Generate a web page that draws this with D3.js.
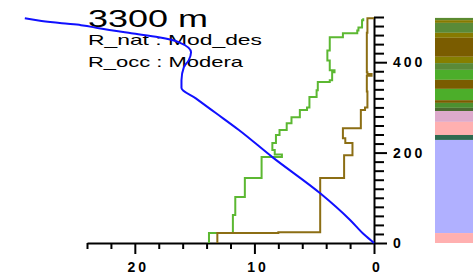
<!DOCTYPE html>
<html>
<head>
<meta charset="utf-8">
<script src="https://cdn.jsdelivr.net/npm/d3@7"></script>
<style>
  body { margin: 0; background: #fff; }
  svg { display: block; }
</style>
</head>
<body>
<div id="chart"></div>
<script>
// profile heights (0-500) and values
var tempH = [0, 18, 51, 110, 190, 250, 287, 320, 343, 360, 389, 404, 422, 444, 455, 464, 475, 482, 486, 491, 497];
var tempV = [0, 0.8, 2.0, 4.5, 8.5, 11.3, 13.2, 14.9, 16.1, 16.1, 15.9, 15.5, 15.3, 16.3, 18.0, 20.3, 23.0, 24.5, 26.1, 27.8, 29.2];

var greenH = [0, 22, 62, 102, 144, 190, 196, 206, 221, 239, 250, 265, 278, 294, 300, 323, 338, 356, 360, 378, 382, 404, 426, 455, 464, 470, 477, 493, 497];
var greenV = [13.8, 11.8, 11.6, 10.8, 9.4, 7.7, 8.3, 8.5, 8.2, 7.9, 7.3, 6.9, 6.2, 5.6, 5.4, 4.8, 4.7, 3.7, 3.5, 3.3, 3.7, 3.9, 3.7, 2.6, 1.4, 1.3, 1.0, 0.9, 0.9];

var brownH = [0, 22, 24, 144, 194, 221, 232, 254, 294, 300, 335, 370, 374, 378, 420, 465, 497, 497];
var brownV = [13.1, 8.0, 4.5, 2.5, 1.8, 2.4, 2.6, 1.1, 0.75, 0.55, 0.6, 0.2, 0.55, 0.6, 0.6, 0.55, 0.55, 0];

// colour column, edges from top to bottom
var stripeEdges = [498, 493, 487, 465, 454, 412, 398, 383, 361, 341, 316, 310, 299, 292, 268, 239, 228, 22, 0];
var stripeColors = ["#5a8a30", "#867a00", "#5a8a38", "#867a00", "#7a5c00", "#857f00", "#5a8a38", "#4cae2a",
                    "#7a5c00", "#4cae2a", "#7a5c00", "#4c9030", "#4a6a30", "#ddaacc", "#ffb0b0", "#2f6a50",
                    "#b0b0ff", "#ffb0b0"];

var xTicks = d3.range(0, 25, 2);
var yTicks = d3.range(0, 501, 20);
var xLabels = [0, 10, 20];
var yLabels = [0, 200, 400];

var title = "3300 m";
var line1 = "R_nat : Mod_des";
var line2 = "R_occ : Modera";

var w = 473, h = 276;

var x = d3.scaleLinear().domain([24, 0]).range([87, 374]);
var y = d3.scaleLinear().domain([0, 500]).range([243, 17]);

var svg = d3.select("#chart").append("svg")
    .attr("width", w)
    .attr("height", h);

// colour column
svg.selectAll(".stripe")
    .data(stripeColors)
    .enter()
    .append("rect")
    .attr("class", "stripe")
    .attr("x", 435)
    .attr("width", 45)
    .attr("y", function(d, i) { return y(stripeEdges[i]); })
    .attr("height", function(d, i) { return y(stripeEdges[i + 1]) - y(stripeEdges[i]); })
    .attr("fill", function(d) { return d; });

// texts
svg.append("text")
    .attr("x", 88).attr("y", 27)
    .attr("font-family", "Liberation Sans, Arial, sans-serif")
    .attr("font-size", 24)
    .attr("textLength", 120)
    .attr("lengthAdjust", "spacingAndGlyphs")
    .text(title);

svg.append("text")
    .attr("x", 88).attr("y", 45)
    .attr("font-family", "Liberation Sans, Arial, sans-serif")
    .attr("font-size", 15)
    .attr("textLength", 174)
    .attr("lengthAdjust", "spacingAndGlyphs")
    .text(line1);

svg.append("text")
    .attr("x", 88).attr("y", 67)
    .attr("font-family", "Liberation Sans, Arial, sans-serif")
    .attr("font-size", 15)
    .attr("textLength", 155)
    .attr("lengthAdjust", "spacingAndGlyphs")
    .text(line2);

// axes
var xAxis = d3.axisBottom(x)
    .tickValues(xTicks)
    .tickSize(6)
    .tickSizeOuter(0)
    .tickFormat(function(d) { return xLabels.indexOf(d) > -1 ? d : ""; });

var gx = svg.append("g")
    .attr("transform", "translate(0," + y(0) + ")")
    .call(xAxis);

gx.selectAll(".tick line")
    .attr("y2", function(d) { return xLabels.indexOf(d) > -1 ? 11 : 6; });
gx.selectAll(".tick text")
    .attr("y", 19)
    .attr("x", 3)
    .attr("font-size", 14)
    .attr("font-weight", "bold")
    .attr("letter-spacing", 3);

var yAxis = d3.axisRight(y)
    .tickValues(yTicks)
    .tickSize(10)
    .tickSizeOuter(0)
    .tickFormat(function(d) { return yLabels.indexOf(d) > -1 ? d : ""; });

var gy = svg.append("g")
    .attr("transform", "translate(" + x(0) + ",0)")
    .call(yAxis);

gy.selectAll(".tick line")
    .attr("x2", function(d) { return yLabels.indexOf(d) > -1 ? 13 : 10; });
gy.selectAll(".tick text")
    .attr("x", 19)
    .attr("font-size", 14)
    .attr("font-weight", "bold")
    .attr("letter-spacing", 3);

svg.selectAll(".domain, .tick line")
    .attr("stroke", "#000")
    .attr("stroke-width", 2);
svg.selectAll(".tick text")
    .attr("font-family", "Liberation Sans, Arial, sans-serif")
    .attr("fill", "#000");

// profiles
var step = d3.line()
    .x(function(d) { return x(d[1]); })
    .y(function(d) { return y(d[0]); })
    .curve(d3.curveStepBefore);

var smooth = d3.line()
    .x(function(d) { return x(d[1]); })
    .y(function(d) { return y(d[0]); })
    .curve(d3.curveMonotoneY);

svg.append("path")
    .datum(d3.zip(greenH, greenV))
    .attr("d", step)
    .attr("fill", "none")
    .attr("stroke", "#5cb832")
    .attr("stroke-width", 2);

svg.append("path")
    .datum(d3.zip(brownH, brownV))
    .attr("d", step)
    .attr("fill", "none")
    .attr("stroke", "#8c6e14")
    .attr("stroke-width", 2);

svg.append("path")
    .datum(d3.zip(tempH, tempV))
    .attr("d", smooth)
    .attr("fill", "none")
    .attr("stroke", "#1010ff")
    .attr("stroke-width", 2);
</script>
</body>
</html>
